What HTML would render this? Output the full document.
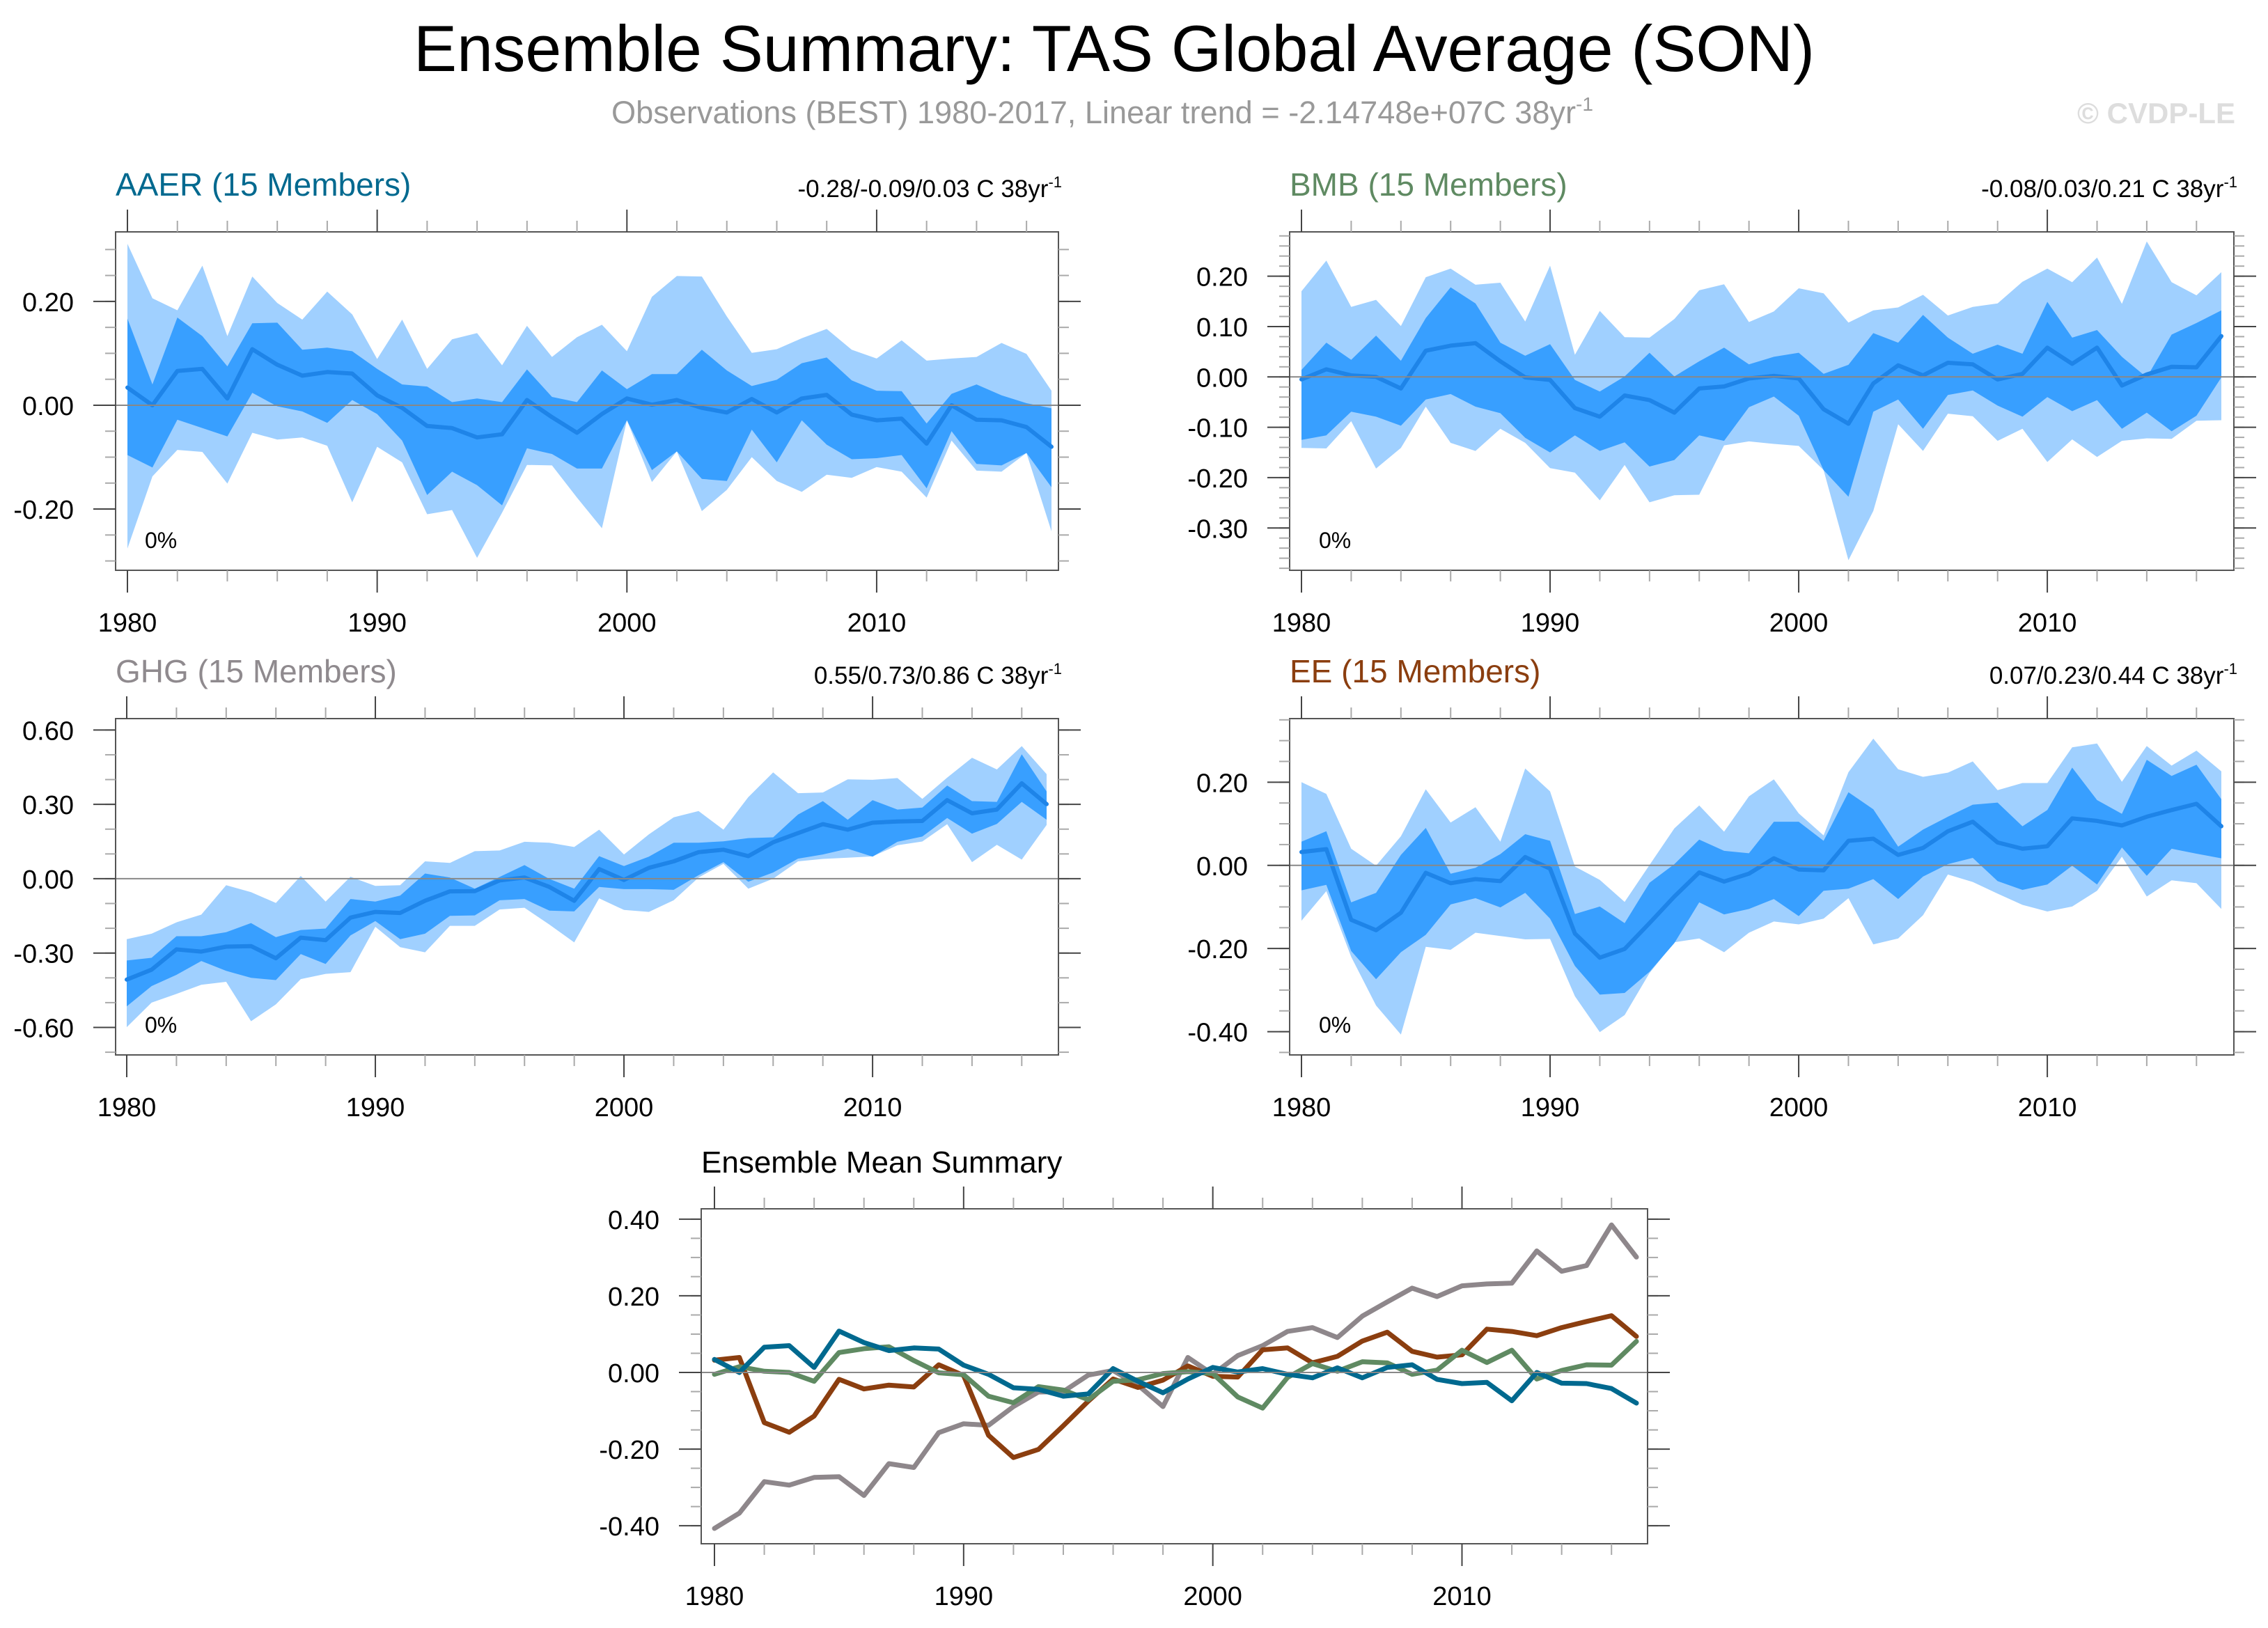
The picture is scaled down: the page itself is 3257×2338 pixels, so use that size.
<!DOCTYPE html>
<html><head><meta charset="utf-8">
<style>
html,body{margin:0;padding:0;background:#fff;}
svg{display:block;font-family:"Liberation Sans",Arial,sans-serif;}
</style></head>
<body>
<svg id="chart" xmlns="http://www.w3.org/2000/svg" width="3257" height="2338" viewBox="0 0 3257 2338">
<rect x="0" y="0" width="3257" height="2338" fill="#fff"/>
<text x="1600" y="102" font-size="94" text-anchor="middle" textLength="2012" lengthAdjust="spacingAndGlyphs" fill="#000">Ensemble Summary: TAS Global Average (SON)</text>
<text x="878" y="177" font-size="45" fill="#999" textLength="1410" lengthAdjust="spacingAndGlyphs">Observations (BEST) 1980-2017, Linear trend = -2.14748e+07C 38yr<tspan dy="-18" font-size="28">-1</tspan></text>
<text x="3210" y="177" font-size="42" font-weight="bold" fill="#dddddd" text-anchor="end">© CVDP-LE</text>
<g id="plots"></g>
</svg>
<script>
const years = [];
for (let y = 1980; y <= 2017; y++) years.push(y);

// AAER
const aaerMean = [.034,0,.066,.07,.013,.108,.078,.057,.064,.061,.019,-.005,-.04,-.044,-.062,-.056,.01,-.023,-.053,-.017,.013,.001,.01,-.005,-.014,.012,-.014,.013,.02,-.018,-.029,-.026,-.074,0,-.028,-.029,-.042,-.08];
const aaerLightMax = [.311,.206,.183,.269,.133,.248,.197,.165,.219,.175,.089,.165,.07,.127,.139,.077,.153,.093,.131,.155,.104,.209,.249,.248,.171,.101,.108,.129,.147,.107,.09,.125,.086,.09,.093,.12,.099,.028];
const aaerDarkMax = [.167,.04,.169,.133,.075,.158,.159,.107,.111,.104,.07,.04,.036,.006,.013,.006,.069,.016,.006,.067,.031,.06,.06,.107,.067,.037,.049,.081,.092,.048,.028,.027,-.035,.022,.04,.019,.004,-.006];
const aaerDarkMin = [-.096,-.12,-.028,-.044,-.06,.024,-.002,-.012,-.034,.01,-.017,-.068,-.173,-.128,-.154,-.193,-.083,-.094,-.122,-.122,-.029,-.125,-.089,-.142,-.146,-.047,-.11,-.029,-.076,-.104,-.102,-.096,-.16,-.05,-.113,-.116,-.092,-.158];
const aaerLightMin = [-.276,-.137,-.086,-.09,-.151,-.053,-.066,-.062,-.078,-.187,-.08,-.11,-.21,-.202,-.294,-.207,-.115,-.116,-.178,-.237,-.029,-.148,-.089,-.204,-.163,-.1,-.146,-.167,-.134,-.14,-.119,-.128,-.178,-.068,-.126,-.128,-.092,-.243];

// BMB
const bmbMean = [-.005,.015,.003,0,-.023,.052,.062,.067,.031,-.001,-.006,-.062,-.079,-.037,-.046,-.071,-.023,-.019,-.003,.002,-.003,-.064,-.093,-.013,.023,.003,.028,.025,-.005,.006,.058,.026,.058,-.017,.005,.02,.019,.081];
const bmbLightMax = [.17,.231,.139,.153,.101,.198,.215,.183,.187,.11,.221,.044,.131,.079,.078,.115,.172,.184,.109,.13,.176,.166,.108,.132,.138,.163,.122,.139,.146,.189,.215,.188,.237,.145,.269,.188,.162,.208];
const bmbDarkMax = [.014,.068,.034,.082,.032,.117,.178,.146,.068,.042,.065,-.006,-.029,.001,.048,.001,.031,.058,.025,.04,.048,.006,.024,.087,.068,.123,.078,.046,.064,.046,.149,.078,.093,.04,-.001,.084,.107,.132];
const bmbDarkMin = [-.125,-.116,-.069,-.079,-.097,-.045,-.034,-.059,-.072,-.121,-.15,-.116,-.147,-.13,-.178,-.165,-.116,-.127,-.06,-.039,-.077,-.185,-.238,-.069,-.045,-.103,-.036,-.027,-.057,-.079,-.04,-.068,-.046,-.103,-.071,-.108,-.077,-.001];
const bmbLightMin = [-.141,-.142,-.088,-.182,-.141,-.059,-.131,-.147,-.103,-.131,-.181,-.19,-.245,-.175,-.249,-.235,-.234,-.136,-.128,-.133,-.137,-.185,-.364,-.266,-.094,-.147,-.073,-.078,-.127,-.103,-.169,-.124,-.159,-.127,-.122,-.123,-.087,-.086];

// GHG
const ghgMean = [-.407,-.367,-.285,-.294,-.274,-.272,-.321,-.238,-.248,-.157,-.134,-.138,-.089,-.051,-.05,-.007,.005,-.033,-.089,.039,-.005,.044,.07,.107,.117,.091,.147,.184,.22,.198,.226,.231,.233,.317,.264,.279,.385,.301];
const ghgLightMax = [-.244,-.222,-.176,-.145,-.026,-.054,-.098,.011,-.092,.008,-.029,-.026,.07,.064,.111,.114,.149,.145,.128,.198,.098,.179,.248,.273,.198,.329,.429,.345,.348,.401,.399,.406,.322,.408,.488,.441,.535,.422];
const ghgDarkMax = [-.33,-.319,-.232,-.232,-.216,-.179,-.236,-.207,-.201,-.082,-.092,-.068,.021,.005,-.04,.007,.055,-.001,-.04,.091,.051,.089,.145,.145,.151,.164,.167,.259,.313,.238,.317,.279,.287,.376,.313,.31,.502,.352];
const ghgDarkMin = [-.515,-.433,-.388,-.332,-.372,-.4,-.409,-.304,-.344,-.229,-.171,-.244,-.222,-.15,-.148,-.087,-.082,-.129,-.132,-.033,-.042,-.042,-.045,.014,.067,-.012,.025,.081,.098,.121,.089,.149,.17,.245,.182,.221,.31,.238];
const ghgLightMin = [-.599,-.5,-.465,-.428,-.416,-.575,-.507,-.405,-.384,-.377,-.194,-.276,-.297,-.19,-.19,-.124,-.117,-.185,-.257,-.079,-.126,-.134,-.087,.005,.06,-.04,.0,.07,.08,.085,.09,.135,.15,.22,.067,.137,.077,.217];

// EE
const eeMean = [.032,.039,-.131,-.156,-.114,-.018,-.043,-.033,-.038,.02,-.008,-.164,-.222,-.201,-.139,-.075,-.017,-.039,-.02,.017,-.01,-.012,.059,.064,.025,.042,.082,.105,.055,.04,.046,.113,.107,.096,.117,.133,.148,.094];
const eeLightMax = [.2,.172,.04,-.001,.07,.183,.103,.14,.057,.233,.178,-.003,-.035,-.088,.001,.089,.144,.081,.166,.207,.125,.072,.224,.305,.231,.213,.223,.25,.181,.198,.198,.284,.293,.201,.287,.24,.276,.226];
const eeDarkMax = [.057,.082,-.089,-.066,.025,.09,-.02,-.006,.027,.075,.059,-.117,-.099,-.139,-.042,.003,.062,.035,.029,.105,.105,.059,.176,.135,.045,.086,.117,.146,.151,.094,.133,.235,.157,.124,.254,.215,.242,.159];
const eeDarkMin = [-.06,-.047,-.206,-.274,-.209,-.167,-.094,-.079,-.101,-.066,-.128,-.242,-.311,-.307,-.256,-.187,-.089,-.118,-.105,-.081,-.122,-.061,-.056,-.033,-.081,-.027,.003,.018,-.038,-.059,-.046,-.001,-.046,.043,-.025,.04,.028,.017];
const eeLightMin = [-.133,-.062,-.22,-.337,-.407,-.196,-.203,-.162,-.17,-.178,-.177,-.315,-.401,-.36,-.259,-.185,-.176,-.209,-.162,-.135,-.142,-.128,-.079,-.19,-.176,-.12,-.022,-.04,-.068,-.095,-.111,-.099,-.061,.021,-.075,-.036,-.043,-.105];

const aaerTicks = [0.2, 0, -0.2];
const aaerTickLabels = ["0.20","0.00","-0.20"];
const bmbTicks = [0.2, 0.1, 0, -0.1, -0.2, -0.3];
const bmbTickLabels = ["0.20","0.10","0.00","-0.10","-0.20","-0.30"];
const ghgTicks = [0.6, 0.3, 0, -0.3, -0.6];
const ghgTickLabels = ["0.60","0.30","0.00","-0.30","-0.60"];
const eeTicks = [0.2, 0, -0.2, -0.4];
const eeTickLabels = ["0.20","0.00","-0.20","-0.40"];
const meanTicks = [0.4, 0.2, 0, -0.2, -0.4];
const meanTickLabels = ["0.40","0.20","0.00","-0.20","-0.40"];
const xTicks = [1980, 1990, 2000, 2010];
const xTickLabels = ["1980","1990","2000","2010"];

const NS = "http://www.w3.org/2000/svg";
const root = document.getElementById("plots");
function mk(tag, attrs, parent) {
  const e = document.createElementNS(NS, tag);
  for (const k in attrs) e.setAttribute(k, attrs[k]);
  (parent || root).appendChild(e);
  return e;
}

function makePanel(L) {
  const g = mk("g", {});
  
  
  const xs = v => L.px1980 + (v - 1980) * (L.px2017 - L.px1980) / 37;
  const ys = v => L.y1 - (v - L.vmin) * (L.y1 - L.y0) / (L.vmax - L.vmin);
  const clip = "clip-" + L.name;
  const cp = mk("clipPath", {id: clip}, g);
  mk("rect", {x: L.x0, y: L.y0, width: L.x1 - L.x0, height: L.y1 - L.y0}, cp);
  const data = mk("g", {"clip-path": "url(#" + clip + ")"}, g);
  function band(lo, hi, col, nm) {
    let d = "";
    years.forEach((yr, i) => { d += (i ? "L" : "M") + xs(yr).toFixed(1) + "," + ys(hi[i]).toFixed(1); });
    for (let i = years.length - 1; i >= 0; i--) d += "L" + xs(years[i]).toFixed(1) + "," + ys(lo[i]).toFixed(1);
    const p = mk("path", {d: d + "Z", fill: col}, data);
    
    
  }
  function line(vals, col, nm, w) {
    let d = "";
    years.forEach((yr, i) => { d += (i ? "L" : "M") + xs(yr).toFixed(1) + "," + ys(vals[i]).toFixed(1); });
    const p = mk("path", {d: d, fill: "none", stroke: col, "stroke-width": w, "stroke-linejoin": "round", "stroke-linecap": "round"}, data);
    
    
  }
  if (L.bands) {
    band(L.bands[0], L.bands[1], "#a0d0ff", L.name + "-range-band");
    band(L.bands[2], L.bands[3], "#389fff", L.name + "-10-90-band");
  }
  const zl = mk("line", {x1: L.x0, x2: L.x1, y1: ys(0), y2: ys(0), stroke: "#888", "stroke-width": 2}, g);
  
  
  L.lines.forEach(s => line(s.vals, s.col, s.nm, L.lw || 6));
  const fr = mk("rect", {x: L.x0, y: L.y0, width: L.x1 - L.x0, height: L.y1 - L.y0, fill: "none", stroke: "#555", "stroke-width": 2}, g);
  
  
  for (let yr = 1980; yr <= 2017; yr += 2) {
    const major = (yr % 10 === 0);
    const len = major ? 32 : 16;
    const x = xs(yr);
    mk("line", {x1: x, x2: x, y1: L.y1, y2: L.y1 + len, stroke: major ? "#444" : "#aaa", "stroke-width": 2}, g);
    mk("line", {x1: x, x2: x, y1: L.y0, y2: L.y0 - len, stroke: major ? "#444" : "#aaa", "stroke-width": 2}, g);
  }
  xTicks.forEach((t, i) => {
    const tx = mk("text", {x: xs(t), y: L.y1 + 88, "font-size": 38, "text-anchor": "middle", fill: "#000"}, g);
    tx.textContent = xTickLabels[i];
    
    
  });
  const start = Math.ceil(L.vmin / L.minor - 1e-6);
  for (let k = start; k * L.minor <= L.vmax + 1e-9; k++) {
    const v = k * L.minor, y = ys(v);
    mk("line", {x1: L.x0, x2: L.x0 - 15, y1: y, y2: y, stroke: "#aaa", "stroke-width": 2}, g);
    mk("line", {x1: L.x1, x2: L.x1 + 15, y1: y, y2: y, stroke: "#aaa", "stroke-width": 2}, g);
  }
  L.ticks.forEach((t, i) => {
    const y = ys(t);
    mk("line", {x1: L.x0, x2: L.x0 - 32, y1: y, y2: y, stroke: "#444", "stroke-width": 2}, g);
    mk("line", {x1: L.x1, x2: L.x1 + 32, y1: y, y2: y, stroke: "#444", "stroke-width": 2}, g);
    const tx = mk("text", {x: L.x0 - 60, y: y + 14, "font-size": 38, "text-anchor": "end", fill: "#000"}, g);
    tx.textContent = L.tickLabels[i];
    
    
  });
  const tt = mk("text", {x: L.x0, y: L.y0 - 52, "font-size": L.titleSize || 46, fill: L.titleCol}, g);
  tt.textContent = L.title;
  
  
  if (L.trend) {
    const tr = mk("text", {x: L.x1 + 5, y: L.y0 - 50, "font-size": 35, "text-anchor": "end", fill: "#000"}, g);
    tr.textContent = L.trend;
    const sp = mk("tspan", {dy: -14, "font-size": 22}, tr);
    sp.textContent = "-1";
    
    
  }
  if (L.bands) {
    const pc = mk("text", {x: L.x0 + 42, y: L.y1 - 32, "font-size": 32, fill: "#000"}, g);
    pc.textContent = "0%";
    
    
  }
}

makePanel({name: "aaer-panel", x0: 166, x1: 1520, y0: 333, y1: 819, px1980: 183, px2017: 1510, vmin: -0.318, vmax: 0.334,
  bands: [aaerLightMin, aaerLightMax, aaerDarkMin, aaerDarkMax], lines: [{vals: aaerMean, col: "#1e84e8", nm: "aaer-mean-line"}],
  ticks: aaerTicks, tickLabels: aaerTickLabels, minor: 0.05, title: "AAER (15 Members)", titleCol: "#00698f", trend: "-0.28/-0.09/0.03 C 38yr"});
makePanel({name: "bmb-panel", x0: 1852, x1: 3208, y0: 333, y1: 819, px1980: 1869, px2017: 3190, vmin: -0.384, vmax: 0.288,
  bands: [bmbLightMin, bmbLightMax, bmbDarkMin, bmbDarkMax], lines: [{vals: bmbMean, col: "#1e84e8", nm: "bmb-mean-line"}],
  ticks: bmbTicks, tickLabels: bmbTickLabels, minor: 0.02, title: "BMB (15 Members)", titleCol: "#5f8a62", trend: "-0.08/0.03/0.21 C 38yr"});
makePanel({name: "ghg-panel", x0: 166, x1: 1520, y0: 1032, y1: 1515, px1980: 182, px2017: 1503, vmin: -0.711, vmax: 0.646,
  bands: [ghgLightMin, ghgLightMax, ghgDarkMin, ghgDarkMax], lines: [{vals: ghgMean, col: "#1e84e8", nm: "ghg-mean-line"}],
  ticks: ghgTicks, tickLabels: ghgTickLabels, minor: 0.1, title: "GHG (15 Members)", titleCol: "#8f8a8e", trend: "0.55/0.73/0.86 C 38yr"});
makePanel({name: "ee-panel", x0: 1852, x1: 3208, y0: 1032, y1: 1515, px1980: 1869, px2017: 3190, vmin: -0.456, vmax: 0.353,
  bands: [eeLightMin, eeLightMax, eeDarkMin, eeDarkMax], lines: [{vals: eeMean, col: "#1e84e8", nm: "ee-mean-line"}],
  ticks: eeTicks, tickLabels: eeTickLabels, minor: 0.05, title: "EE (15 Members)", titleCol: "#8b3e0f", trend: "0.07/0.23/0.44 C 38yr"});
makePanel({name: "ensemble-mean-panel", x0: 1007, x1: 2366, y0: 1736, y1: 2217, px1980: 1026, px2017: 2350, vmin: -0.447, vmax: 0.427,
  bands: null, lw: 7, lines: [
    {vals: ghgMean, col: "#8e878b", nm: "ghg-mean-series"},
    {vals: eeMean, col: "#8b3e0f", nm: "ee-mean-series"},
    {vals: bmbMean, col: "#5f8a62", nm: "bmb-mean-series"},
    {vals: aaerMean, col: "#00698f", nm: "aaer-mean-series"}],
  ticks: meanTicks, tickLabels: meanTickLabels, minor: 0.05, title: "Ensemble Mean Summary", titleCol: "#000", titleSize: 44, trend: null});
</script>
</body></html>
